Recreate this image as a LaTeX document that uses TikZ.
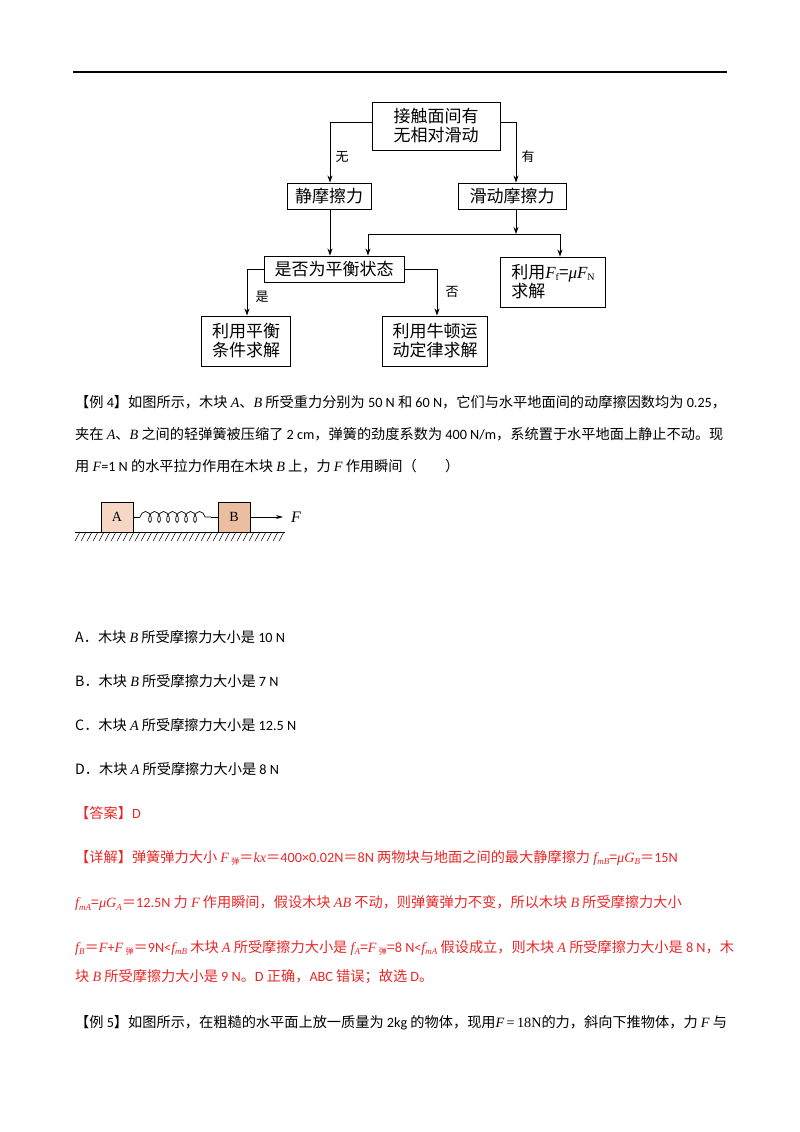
\documentclass[tikz,border=0pt]{standalone}
\usepackage{fontspec}
\setmainfont{Noto Sans CJK SC}
\newfontfamily\lserif{Liberation Serif}
\newfontfamily\lsans{Carlito}
\usetikzlibrary{arrows.meta,decorations.pathmorphing}
\newcommand{\iv}[1]{{\lserif\itshape #1}}
\newcommand{\nm}[1]{{\lsans #1}}
\newcommand{\sbi}[1]{\raisebox{-2.5pt}{\lserif\itshape\fontsize{9}{9}\selectfont #1}}
\newcommand{\sbc}[1]{\raisebox{-2.5pt}{\fontsize{8}{8}\selectfont #1}}
\definecolor{red1}{RGB}{232,40,40}
\definecolor{boxA}{RGB}{246,214,196}
\definecolor{boxB}{RGB}{236,190,160}
\begin{document}
\begin{tikzpicture}[x=1pt,y=-1pt,
  fb/.style={draw,line width=0.9pt,inner sep=2pt,font=\fontsize{17}{19}\selectfont,align=left},
  ar/.style={line width=0.9pt,-{Stealth[length=7pt,width=5pt]}},
  lb/.style={font=\fontsize{13}{15}\selectfont},
  tx/.style={anchor=west,inner sep=0pt,font=\fontsize{14.2}{16}\selectfont},
  rt/.style={tx,text=red1}]
\useasboundingbox (0,0) rectangle (800,1132);
\fill[white] (0,0) rectangle (800,1132);
\draw[line width=1.2pt] (73,72) -- (727,72);
% flowchart
\node[fb,minimum width=128pt,minimum height=48pt] (top) at (436,126) {接触面间有\\无相对滑动};
\node[fb,minimum width=84pt,minimum height=26pt] (jing) at (329,196) {静摩擦力};
\node[fb,minimum width=108pt,minimum height=26pt] (hua) at (512,196) {滑动摩擦力};
\node[fb,minimum width=140pt,minimum height=26pt] (ph) at (334,269) {是否为平衡状态};
\node[fb,minimum width=105pt,minimum height=50pt] (ff) at (553,282) {利用\iv{F}\raisebox{-2pt}{\lserif\fontsize{10}{10}\selectfont f}={\lserif\itshape μF}\raisebox{-2pt}{\lserif\fontsize{10}{10}\selectfont N}\\求解};
\node[fb,minimum width=89pt,minimum height=50pt] (pj) at (246,341) {利用平衡\\条件求解};
\node[fb,minimum width=105pt,minimum height=50pt] (nd) at (435,341) {利用牛顿运\\动定律求解};
\coordinate (tl) at (330,122); \coordinate (tr) at (516,122);
\draw[ar] (top.west |- tl) -- (tl) -- (jing.north -| tl);
\draw[ar] (top.east |- tr) -- (tr) -- (hua.north -| tr);
\node[lb] at (342,157) {无};
\node[lb] at (528,157) {有};
\draw[ar] (jing.south -| tl) -- (ph.north -| tl);
\coordinate (hm) at (516,234);
\coordinate (hl) at (368,234); \coordinate (hr) at (560,234);
\draw[ar] (hua.south -| hm) -- (hm);
\draw[ar] (hl) -- (hr) -- (ff.north -| hr);
\draw[ar] (hl) -- (ph.north -| hl);
\coordinate (pl) at (247,269); \coordinate (pr) at (437,269);
\draw[ar] (ph.west) -- (pl) -- (pj.north -| pl);
\draw[ar] (ph.east) -- (pr) -- (nd.north -| pr);
\node[lb] at (262,297) {是};
\node[lb] at (452,292) {否};
% text
\node[tx] at (75,402) {【例 \nm{4}】如图所示，木块 \iv{A}、\iv{B} 所受重力分别为 \nm{50 N} 和 \nm{60 N}，它们与水平地面间的动摩擦因数均为 \nm{0.25}，};
\node[tx] at (75,434) {夹在 \iv{A}、\iv{B} 之间的轻弹簧被压缩了 \nm{2 cm}，弹簧的劲度系数为 \nm{400 N/m}，系统置于水平地面上静止不动。现};
\node[tx] at (75,466) {用 \iv{F}\nm{=1 N} 的水平拉力作用在木块 \iv{B} 上，力 \iv{F} 作用瞬间（　　）};
% spring figure
\draw[line width=0.8pt] (75,532) -- (285,532);
\foreach \i in {0,...,34} \draw[line width=0.5pt] (80+6*\i,532) -- (75+6*\i,541);
\node[draw,fill=boxA,minimum width=32pt,minimum height=30pt,inner sep=0pt,font=\lserif\fontsize{14}{14}\selectfont] (A) at (117,517) {A};
\node[draw,fill=boxB,minimum width=32pt,minimum height=30pt,inner sep=0pt,font=\lserif\fontsize{14}{14}\selectfont] (B) at (234,517) {B};
\coordinate (s1) at (140,517); \coordinate (s2) at (211,517);
\draw[line width=0.7pt] (A.east) -- (s1);
\draw[line width=0.7pt,decorate,decoration={coil,segment length=9pt,amplitude=5.5pt,aspect=0.6}] (s1) -- (s2);
\draw[line width=0.7pt] (s2) -- (B.west);
\coordinate (fe) at (283,517);
\draw[line width=0.8pt,-{Stealth[length=7pt,width=4pt]}] (B.east) -- (fe);
\node[font=\lserif\itshape\fontsize{16}{16}\selectfont] at (296,517) {F};
\node[tx] at (75,637) {A．木块 \iv{B} 所受摩擦力大小是 \nm{10 N}};
\node[tx] at (75,681) {B．木块 \iv{B} 所受摩擦力大小是 \nm{7 N}};
\node[tx] at (75,725) {C．木块 \iv{A} 所受摩擦力大小是 \nm{12.5 N}};
\node[tx] at (75,769) {D．木块 \iv{A} 所受摩擦力大小是 \nm{8 N}};
\node[rt] at (75,813) {【答案】\nm{D}};
\node[rt] at (75,858) {【详解】弹簧弹力大小 \iv{F}\,\sbc{弹}＝\iv{kx}＝\nm{400×0.02N}＝\nm{8N} 两物块与地面之间的最大静摩擦力 \iv{f}\sbi{mB}=\iv{μG}\sbi{B}＝\nm{15N}};
\node[rt] at (75,903) {\iv{f}\sbi{mA}=\iv{μG}\sbi{A}＝\nm{12.5N} 力 \iv{F} 作用瞬间，假设木块 \iv{AB} 不动，则弹簧弹力不变，所以木块 \iv{B} 所受摩擦力大小};
\node[rt] at (75,948) {\iv{f}\sbi{B}＝\iv{F}\nm{+}\iv{F}\,\sbc{弹}＝\nm{9N<}\iv{f}\sbi{mB} 木块 \iv{A} 所受摩擦力大小是 \iv{f}\sbi{A}=\iv{F}\,\sbc{弹}=\nm{8 N<}\iv{f}\sbi{mA} 假设成立，则木块 \iv{A} 所受摩擦力大小是 \nm{8 N}，木};
\node[rt] at (75,977) {块 \iv{B} 所受摩擦力大小是 \nm{9 N}。\nm{D} 正确，\nm{ABC} 错误；故选 \nm{D}。};
\node[tx] at (75,1023) {【例 \nm{5}】如图所示，在粗糙的水平面上放一质量为 \nm{2kg} 的物体，现用{\lserif\itshape F}{\lserif\,=\,18N}的力，斜向下推物体，力 \iv{F} 与};
\end{tikzpicture}
\end{document}
